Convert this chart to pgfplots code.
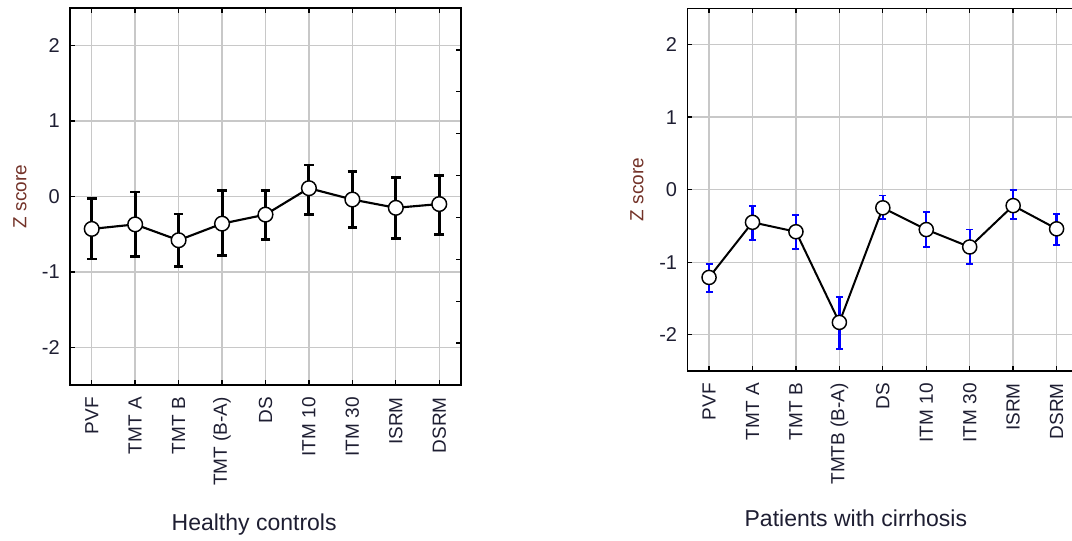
\documentclass[border=0pt]{standalone}
\usepackage{fontspec}
\setmainfont{Liberation Sans}
\usepackage{pgfplots}
\usepackage{pgfplotstable}
\pgfplotsset{compat=1.18}
\definecolor{tickcol}{RGB}{30,30,50}
\definecolor{zcol}{RGB}{115,50,40}
\definecolor{gridcol}{RGB}{200,200,200}

\pgfplotstableread{
x y ep em
0 -0.43 0.40 0.40
1 -0.37 0.43 0.43
2 -0.58 0.35 0.35
3 -0.36 0.44 0.42
4 -0.24 0.32 0.33
5 0.11 0.31 0.35
6 -0.04 0.37 0.37
7 -0.15 0.40 0.41
8 -0.10 0.38 0.40
}\healthy

\pgfplotstableread{
x y ep em
0 -1.21 0.18 0.20
1 -0.45 0.23 0.24
2 -0.58 0.23 0.24
3 -1.83 0.35 0.37
4 -0.25 0.17 0.16
5 -0.55 0.24 0.24
6 -0.79 0.24 0.23
7 -0.22 0.21 0.19
8 -0.54 0.21 0.22
}\cirrhosis

\pgfplotsset{panel/.style={
  scale only axis, width=293.25pt, anchor=south west,
  xmin=-0.5, xmax=8.5, ymin=-2.5, ymax=2.5,
  xtick={0,...,8}, ytick={-2,-1,0,1,2},
  grid=major, grid style={gridcol, line width=1pt},
  axis line style={line width=1.2pt, black},
  tick style={black, line width=1pt}, major tick length=3.75pt,
  tick align=inside, ytick pos=left, xtick pos=both,
  /pgf/number format/assume math mode=true,
  yticklabel style={font=\fontsize{15}{18}\selectfont, text=tickcol, inner sep=0pt},
  yticklabel shift=7.5pt,
  xticklabel style={font=\fontsize{14.25}{16}\selectfont, text=tickcol, rotate=90, anchor=east, inner sep=0pt},
  xticklabel shift=9pt,
  ylabel={Z score},
  ylabel style={font=\fontsize{14.25}{17}\selectfont, text=zcol, anchor=center},
  xlabel style={font=\fontsize{17.25}{20}\selectfont, text=tickcol, anchor=base},
}}

\begin{document}
\begin{tikzpicture}
\useasboundingbox (0,0) rectangle (804pt,405pt);
\clip (0,0) rectangle (804pt,405pt);

% left panel
\begin{axis}[panel, at={(52.5pt,116.25pt)}, height=282.75pt,
  xticklabels={PVF,TMT A,TMT B,TMT (B-A),DS,ITM 10,ITM 30,ISRM,DSRM},
  xlabel={Healthy controls},
  xlabel style={at={(axis description cs:0.471,-0.385)}},
  ylabel style={at={(axis description cs:-0.128,0.5)}},
]
\addplot[black, line width=0.4pt, mark=none, forget plot,
  error bars/.cd, y dir=both, y explicit,
  error bar style={black, line width=2.2pt},
  error mark options={black, rotate=90, mark size=3.6pt, line width=2pt}]
  table[x=x, y=y, y error plus=ep, y error minus=em]{\healthy};
\addplot[black, line width=1.6pt, mark=*, mark size=5.5pt,
  mark options={fill=white, draw=black, line width=1.1pt}]
  table[x=x, y=y]{\healthy};
\end{axis}
% right-side ticks of left panel
\begin{axis}[scale only axis, width=293.25pt, height=282.75pt, anchor=south west,
  at={(52.5pt,116.25pt)}, xmin=-0.5, xmax=8.5, ymin=-2.5, ymax=2.5,
  axis x line=none, axis y line*=right,
  axis line style={line width=1.2pt, black},
  tick style={black, line width=1pt}, major tick length=3.75pt, tick align=inside,
  ytick={-1.944,-1.389,-0.833,-0.278,0.278,0.833,1.389,1.944}, yticklabels={}]
\end{axis}

% right panel
\begin{axis}[panel, at={(515.5pt,126.75pt)}, height=272pt,
  xticklabels={PVF,TMT A,TMT B,TMTB (B-A),DS,ITM 10,ITM 30,ISRM,DSRM},
  xlabel={Patients with cirrhosis},
  xlabel style={at={(axis description cs:0.431,-0.430)}},
  ylabel style={at={(axis description cs:-0.129,0.5)}},
]
\addplot[blue, line width=0.4pt, mark=none, forget plot,
  error bars/.cd, y dir=both, y explicit,
  error bar style={blue, line width=1.7pt},
  error mark options={blue, rotate=90, mark size=2.6pt, line width=1.4pt}]
  table[x=x, y=y, y error plus=ep, y error minus=em]{\cirrhosis};
\addplot[black, line width=1.5pt, mark=*, mark size=5.3pt,
  mark options={fill=white, draw=black, line width=1.1pt}]
  table[x=x, y=y]{\cirrhosis};
\end{axis}
\end{tikzpicture}
\end{document}
